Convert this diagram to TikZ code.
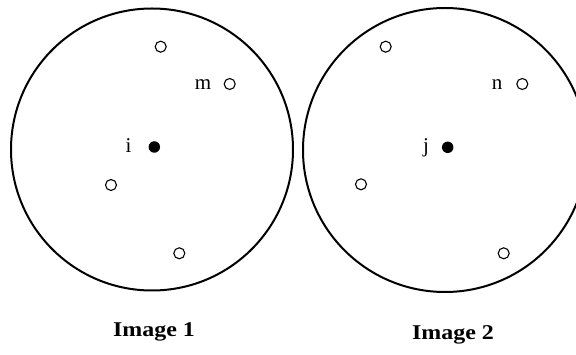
\documentclass[tikz,border=0pt]{standalone}
\usepackage{fontspec}
\setmainfont{Liberation Serif}
\begin{document}
\begin{tikzpicture}[x=1pt,y=-1pt,
  bigcirc/.style={draw=black,line width=2pt},
  opendot/.style={circle,draw=black,fill=white,line width=1.1pt,minimum size=11pt,inner sep=0pt},
  fulldot/.style={circle,fill=black,minimum size=11.5pt,inner sep=0pt},
  lbl/.style={font=\fontsize{21}{24}\selectfont,inner sep=0pt,anchor=base},
  captext/.style={font=\bfseries\fontsize{21}{24}\selectfont,inner sep=0pt,anchor=base,xscale=1.14}]
\useasboundingbox (0,0) rectangle (576,355);
\clip (0,0) rectangle (576,355);
\fill[white] (0,0) rectangle (576,355);
% image 1
\node[bigcirc,circle,minimum size=282pt,inner sep=0pt] (c1) at (152,149.5) {};
\node[opendot] (a1) at (160.7,46.7) {};
\node[opendot] (m) at (229.7,84) {};
\node[opendot] (a3) at (111,185) {};
\node[opendot] (a4) at (179.3,253.3) {};
\node[fulldot] (i) at (154.3,147) {};
\node[lbl] (lm) at (203,90) {m};
\node[lbl] (li) at (128.5,153) {i};
% image 2
\node[bigcirc,circle,minimum size=284pt,inner sep=0pt] (c2) at (445,150) {};
\node[opendot] (b1) at (385.7,46.7) {};
\node[opendot] (n) at (522.3,84) {};
\node[opendot] (b3) at (361,184.3) {};
\node[opendot] (b4) at (503.7,253.3) {};
\node[fulldot] (j) at (447.7,147.3) {};
\node[lbl] (ln) at (497,90) {n};
\node[lbl] (lj) at (426,153) {j};
% captions
\node[captext] (t1) at (154,337) {Image 1};
\node[captext] (t2) at (453,340) {Image 2};
\end{tikzpicture}
\end{document}
